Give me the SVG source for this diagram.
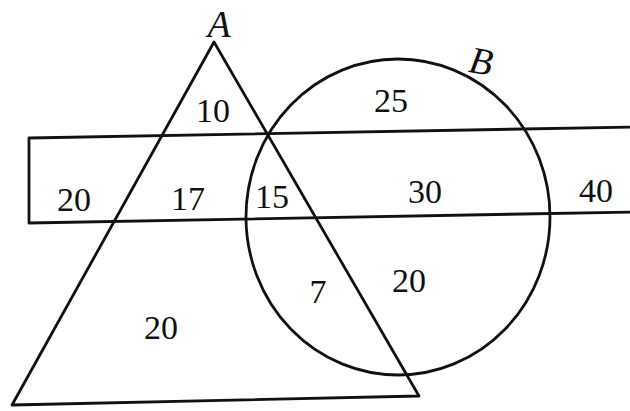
<svg xmlns="http://www.w3.org/2000/svg" width="630" height="411" viewBox="0 0 630 411">
  <style>
    .ln { fill: none; stroke: #111; stroke-width: 2.8; stroke-linejoin: round; }
    .num { font-family: "Liberation Serif", "Times New Roman", serif; font-size: 34px; fill: #111; text-anchor: middle; }
    .lbl { font-family: "Liberation Serif", "Times New Roman", serif; font-style: italic; font-size: 38px; fill: #111; text-anchor: middle; }
  </style>
  <rect width="630" height="411" fill="#ffffff"/>
  <g id="connectors">
    <g id="set-A">
      <polygon class="ln" points="214,42 12,405 419,396"/>
    </g>
    <g id="set-B">
      <ellipse class="ln" cx="398" cy="217" rx="152" ry="158"/>
    </g>
    <g id="set-C">
      <polyline class="ln" points="632,127 29,138 29,223 632,212"/>
    </g>
  </g>
  <g id="label-A"><text class="lbl" x="219" y="37">A</text></g>
  <g id="label-B"><text class="lbl" x="481" y="74" transform="rotate(10 481 62)">B</text></g>
  <g id="r-A-only-top"><text class="num" x="213" y="122">10</text></g>
  <g id="r-B-only-top"><text class="num" x="391" y="112">25</text></g>
  <g id="r-C-only"><text class="num" x="74" y="211">20</text></g>
  <g id="r-A-C"><text class="num" x="188" y="210">17</text></g>
  <g id="r-A-B-C"><text class="num" x="272" y="208">15</text></g>
  <g id="r-B-C"><text class="num" x="425" y="203">30</text></g>
  <g id="r-C-right"><text class="num" x="596" y="202">40</text></g>
  <g id="r-A-B"><text class="num" x="318" y="303">7</text></g>
  <g id="r-B-only"><text class="num" x="409" y="292">20</text></g>
  <g id="r-A-only"><text class="num" x="161" y="339">20</text></g>
</svg>
